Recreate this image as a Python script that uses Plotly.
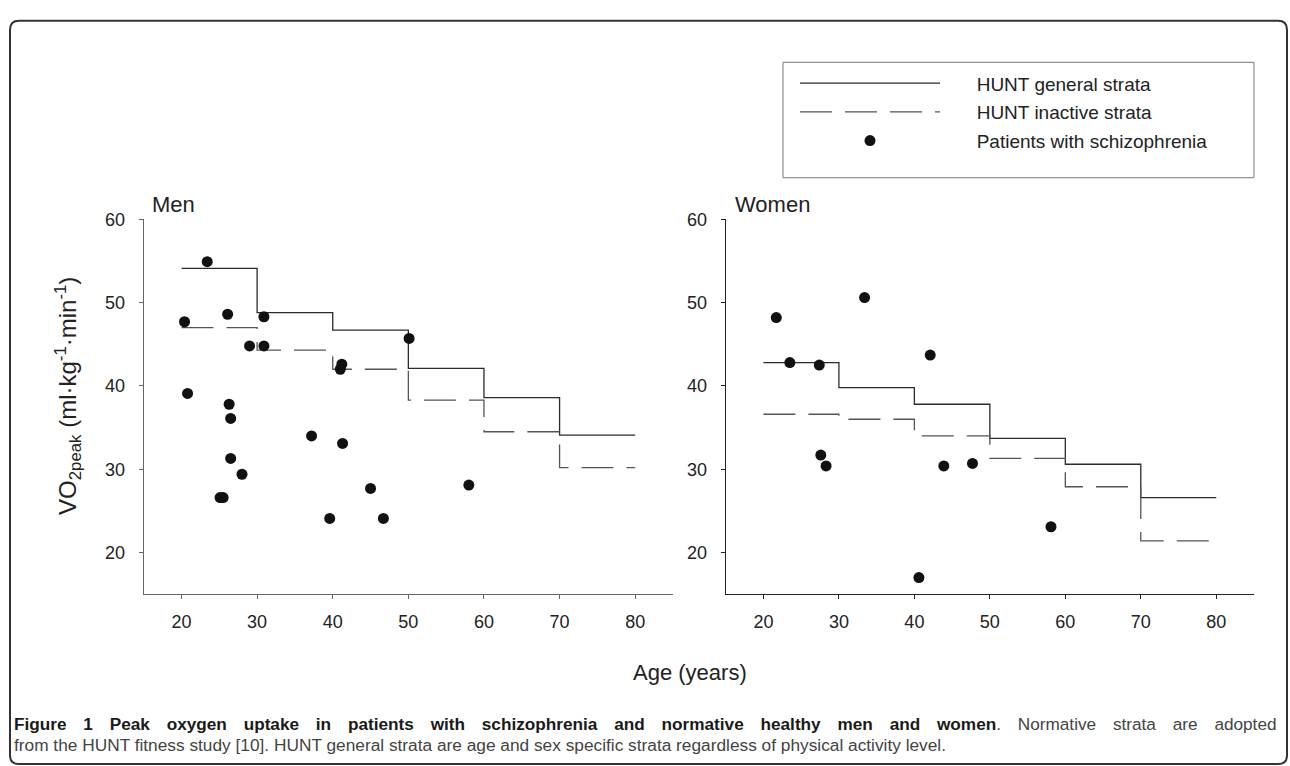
import plotly.graph_objects as go

# ---------------- data ----------------
strata_edges = [20, 30, 40, 50, 60, 70, 80]

men_general = [54.1, 48.8, 46.7, 42.1, 38.6, 34.1]
men_inactive = [47.0, 44.3, 42.0, 38.3, 34.5, 30.2]
women_general = [42.8, 39.8, 37.8, 33.7, 30.6, 26.6]
women_inactive = [36.6, 36.0, 34.0, 31.3, 27.9, 21.4]

men_age = [23.4, 20.4, 26.1, 30.9, 29.0, 30.9, 41.2, 41.0, 50.1, 20.8, 26.3,
           26.5, 37.2, 41.3, 26.5, 28.0, 25.1, 25.5, 45.0, 58.0, 39.6, 46.7]
men_vo2 = [54.9, 47.7, 48.6, 48.3, 44.8, 44.8, 42.6, 42.0, 45.7, 39.1, 37.8,
           36.1, 34.0, 33.1, 31.3, 29.4, 26.6, 26.6, 27.7, 28.1, 24.1, 24.1]

women_age = [21.7, 23.5, 27.4, 33.4, 42.1, 27.6, 28.3, 43.9, 47.7, 58.1, 40.6]
women_vo2 = [48.2, 42.8, 42.5, 50.6, 43.7, 31.7, 30.4, 30.4, 30.7, 23.1, 17.0]

x_ticks = [20, 30, 40, 50, 60, 70, 80]
y_ticks = [20, 30, 40, 50, 60]

legend_names = ["HUNT general strata", "HUNT inactive strata", "Patients with schizophrenia"]

caption_bold = "Figure 1 Peak oxygen uptake in patients with schizophrenia and normative healthy men and women"
caption_rest1 = ". Normative strata are adopted"
caption_line2 = ("from the HUNT fitness study [10]. HUNT general strata are age and sex "
                 "specific strata regardless of physical activity level.")

W, H = 1290, 766
FONT = "Liberation Sans, Arial, sans-serif"
PAD = "\u00a0" * 6


def steps(vals):
    return vals + [vals[-1]]


fig = go.Figure()

solid = dict(color="#2b2b2b", width=1.3)
dashed = dict(color="#555555", width=1.3, dash="32px,13px")
marker = dict(color="#111111", size=11)

panels = [
    ("x", "y", men_general, men_inactive, men_age, men_vo2, True),
    ("x2", "y2", women_general, women_inactive, women_age, women_vo2, False),
]
for xa, ya, gen, ina, ages, vo2, show in panels:
    fig.add_trace(go.Scatter(x=strata_edges, y=steps(gen), mode="lines", line_shape="hv",
                             line=solid, name=PAD + legend_names[0], legendgroup="g",
                             showlegend=show, xaxis=xa, yaxis=ya))
    fig.add_trace(go.Scatter(x=strata_edges, y=steps(ina), mode="lines", line_shape="hv",
                             line=dashed, name=PAD + legend_names[1], legendgroup="i",
                             showlegend=show, xaxis=xa, yaxis=ya))
    fig.add_trace(go.Scatter(x=ages, y=vo2, mode="markers", marker=marker,
                             name=PAD + legend_names[2], legendgroup="p",
                             showlegend=show, xaxis=xa, yaxis=ya))

tickfont = dict(family=FONT, size=18, color="#222")
axis_common = dict(showgrid=False, zeroline=False, showline=True, ticks="outside",
                   ticklen=4, tickwidth=1, tickfont=tickfont)

ydom = [1 - 592 / H, 1 - 212 / H]
fig.update_layout(
    width=W, height=H, margin=dict(l=0, r=0, t=0, b=0),
    paper_bgcolor="white", plot_bgcolor="white",
    font=dict(family=FONT, color="#222"),
    xaxis=dict(domain=[143.7 / W, 673 / W], range=[15, 85], tickvals=x_ticks,
               linecolor="#666", tickcolor="#666", anchor="y", ticklabelstandoff=7,
               **axis_common),
    yaxis=dict(domain=ydom, range=[15, 60], tickvals=y_ticks, anchor="x",
               linecolor="#666", tickcolor="#666", ticklabelstandoff=10, **axis_common),
    xaxis2=dict(domain=[725.7 / W, 1254 / W], range=[15, 85], tickvals=x_ticks,
                linecolor="#222", tickcolor="#222", anchor="y2", ticklabelstandoff=7,
                **axis_common),
    yaxis2=dict(domain=ydom, range=[15, 60], tickvals=y_ticks, anchor="x2",
                linecolor="#222", tickcolor="#222", ticklabelstandoff=10, **axis_common),
    legend=dict(x=795 / W, y=1 - 55 / H, xanchor="left", yanchor="top",
                bgcolor="rgba(0,0,0,0)", borderwidth=0,
                font=dict(family=FONT, size=19, color="#222"),
                itemwidth=140, tracegroupgap=1, traceorder="grouped"),
    showlegend=True,
)

# legend frame
fig.add_shape(type="rect", xref="paper", yref="paper",
              x0=783 / W, x1=1254 / W, y0=1 - 170 / H, y1=1 - 53 / H,
              line=dict(color="#777", width=1), fillcolor="white", layer="below")

# y title, panel titles and shared x title
fig.add_annotation(text="VO<sub>2peak</sub> (ml·kg<sup>-1</sup>·min<sup>-1</sup>)",
                   textangle=-90, x=68 / W, y=1 - 391 / H, xref="paper", yref="paper",
                   xanchor="center", yanchor="middle", showarrow=False,
                   font=dict(family=FONT, size=24, color="#222"))
fig.add_annotation(text="Men", x=150 / W, y=1 - 197 / H, xref="paper", yref="paper",
                   xanchor="left", yanchor="middle", showarrow=False,
                   font=dict(family=FONT, size=22, color="#222"))
fig.add_annotation(text="Women", x=733 / W, y=1 - 197 / H, xref="paper", yref="paper",
                   xanchor="left", yanchor="middle", showarrow=False,
                   font=dict(family=FONT, size=22, color="#222"))
fig.add_annotation(text="Age (years)", x=690 / W, y=1 - 671 / H, xref="paper", yref="paper",
                   xanchor="center", yanchor="middle", showarrow=False,
                   font=dict(family=FONT, size=22, color="#222"))

# caption (line 1 is justified in the reference: widen the word gaps)
GAP = " \u2002\u2009"
line1 = ("<b>" + GAP.join(caption_bold.split(" ")) + "</b>"
         + "<span style='font-weight:normal;color:#444'>"
         + caption_rest1.replace(" ", GAP) + "</span>")
fig.add_annotation(text=line1, x=12 / W, y=1 - 723 / H, xref="paper", yref="paper",
                   xanchor="left", yanchor="middle", showarrow=False,
                   font=dict(family=FONT, size=17.2, color="#1a1a1a"))
fig.add_annotation(text=caption_line2, x=12 / W, y=1 - 745 / H, xref="paper", yref="paper",
                   xanchor="left", yanchor="middle", showarrow=False,
                   font=dict(family=FONT, size=17.3, color="#444"))

# rounded outer frame
L, R, T, B = 10 / W, 1287 / W, 1 - 11 / H, 1 - 764 / H
dx, dy = 9 / W, 9 / H
path = (f"M {L+dx},{T} L {R-dx},{T} Q {R},{T} {R},{T-dy} L {R},{B+dy} Q {R},{B} {R-dx},{B} "
        f"L {L+dx},{B} Q {L},{B} {L},{B+dy} L {L},{T-dy} Q {L},{T} {L+dx},{T} Z")
fig.add_shape(type="path", path=path, xref="paper", yref="paper",
              line=dict(color="#333", width=2), layer="below")

fig.write_html("out.html", config={"displayModeBar": False},
               post_script="document.body.style.margin='0';document.body.style.overflow='hidden';")
